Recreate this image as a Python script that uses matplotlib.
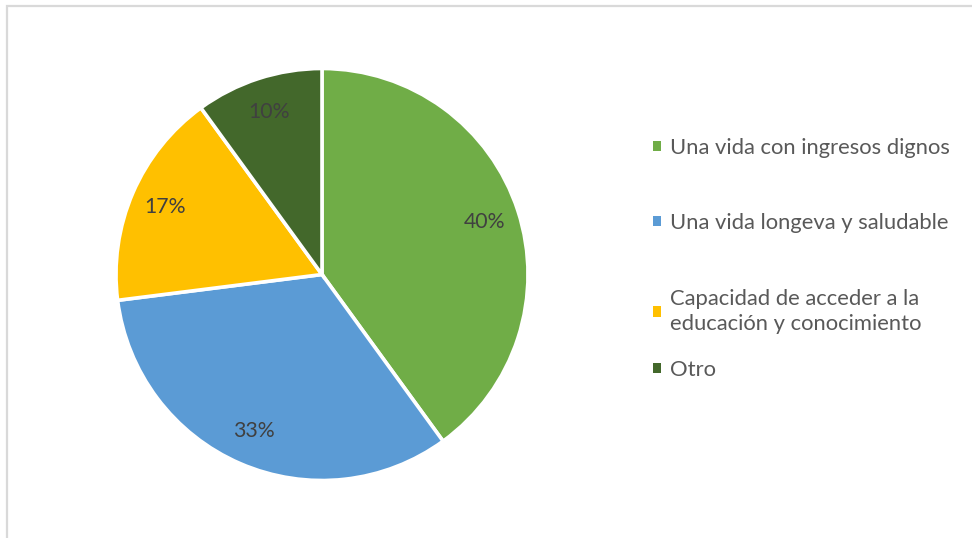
import matplotlib
matplotlib.use('Agg')
import matplotlib.pyplot as plt
import matplotlib.patches as mpatches

plt.rcParams['font.family'] = ['Lato', 'DejaVu Sans']

# data
categorias = ['Una vida con ingresos dignos',
              'Una vida longeva y saludable',
              'Capacidad de acceder a la\neducación y conocimiento',
              'Otro']
porcentajes = [40, 33, 17, 10]
colores = ['#70AD47', '#5B9BD5', '#FFC000', '#43682B']

fig = plt.figure(figsize=(9.72, 5.38), dpi=100)

# light grey chart frame, only top and left visible in the original
fig.patches.append(mpatches.Rectangle((7 / 972, -0.05), 1.2, 1.05 - 6 / 538,
                                      transform=fig.transFigure, fill=False,
                                      edgecolor='#d9d9d9', linewidth=1.6))

# pie centred at (322, 274.5) px, radius ~206 px
ax = fig.add_axes([116 / 972, 57.5 / 538, 412 / 972, 412 / 538])
wedges, textos, pcts = ax.pie(porcentajes, colors=colores, startangle=90,
                              counterclock=False, autopct='%.0f%%',
                              pctdistance=0.83,
                              wedgeprops=dict(edgecolor='white', linewidth=2.6),
                              textprops=dict(color='#404040', fontsize=15.3))
ax.set_xlim(-1, 1)
ax.set_ylim(-1, 1)
ax.set_aspect('equal')
ax.axis('off')

# legend entries, one per category (Excel spaces them unevenly)
y_leyenda = [148, 223, 311.5, 370]
for c, lab, yy in zip(colores, categorias, y_leyenda):
    h = mpatches.Rectangle((0, 0), 1, 1, facecolor=c, edgecolor='none')
    leg = fig.legend([h], [lab], loc='center left',
                     bbox_to_anchor=(653 / 972, 1 - yy / 538),
                     frameon=False, fontsize=15.8, borderpad=0,
                     borderaxespad=0, handlelength=0.36, handleheight=0.36,
                     handletextpad=0.42)
    for t in leg.get_texts():
        t.set_color('#595959')
        t.set_linespacing(1.26)

fig.savefig('out.png', dpi=100)
